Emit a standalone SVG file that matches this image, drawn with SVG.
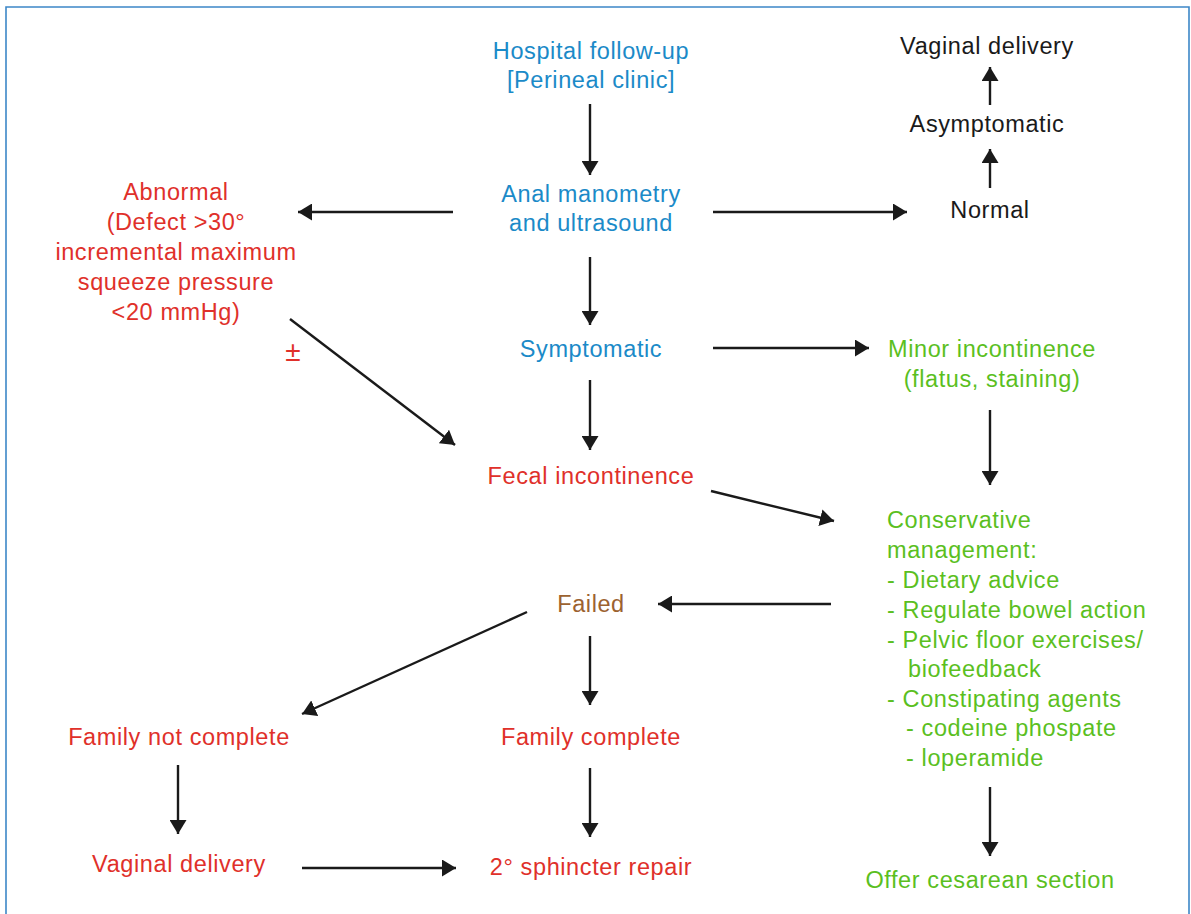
<svg xmlns="http://www.w3.org/2000/svg" width="1191" height="914" viewBox="0 0 1191 914">
  <style>
    text { font-family: "Liberation Sans", Arial, Helvetica, sans-serif; font-size: 23.5px; letter-spacing: 0.6px; }
    .c { text-anchor: middle; }
    .blue { fill: #1b8ac8; }
    .red { fill: #e0302a; }
    .green { fill: #5bbf1f; }
    .black { fill: #1a1a1a; }
    .brown { fill: #9c6230; }
    .pm { font-size: 28px; letter-spacing: 0; }
    .conn line { stroke: #1a1a1a; stroke-width: 2.4; fill: none; marker-end: url(#head); }
  </style>
  <defs>
    <marker id="head" markerUnits="userSpaceOnUse" markerWidth="15" markerHeight="17" refX="14" refY="8.5" orient="auto">
      <path d="M0,0 L14,8.5 L0,17 z" fill="#1a1a1a"/>
    </marker>
  </defs>

  <rect x="0" y="0" width="1191" height="914" fill="#ffffff"/>
  <!-- outer frame -->
  <path d="M6,914 L6,7 L1189,7 L1189,914" fill="none" stroke="#3d87c7" stroke-width="1.6"/>

  <g id="hospital-follow-up" class="blue">
    <text class="c" x="591" y="59">Hospital follow-up</text>
    <text class="c" x="591" y="88">[Perineal clinic]</text>
  </g>
  <g id="manometry" class="blue">
    <text class="c" x="591" y="202">Anal manometry</text>
    <text class="c" x="591" y="231">and ultrasound</text>
  </g>
  <g id="abnormal" class="red">
    <text class="c" x="176" y="200">Abnormal</text>
    <text class="c" x="176" y="230">(Defect &gt;30°</text>
    <text class="c" x="176" y="260">incremental maximum</text>
    <text class="c" x="176" y="290">squeeze pressure</text>
    <text class="c" x="176" y="320">&lt;20 mmHg)</text>
  </g>
  <g id="plus-minus" class="red">
    <text class="c pm" x="293" y="361">±</text>
  </g>
  <g id="normal" class="black">
    <text class="c" x="990" y="218">Normal</text>
  </g>
  <g id="asymptomatic" class="black">
    <text class="c" x="987" y="132">Asymptomatic</text>
  </g>
  <g id="vaginal-delivery-top" class="black">
    <text class="c" x="987" y="54">Vaginal delivery</text>
  </g>
  <g id="symptomatic" class="blue">
    <text class="c" x="591" y="357">Symptomatic</text>
  </g>
  <g id="minor-incontinence" class="green">
    <text class="c" x="992" y="357">Minor incontinence</text>
    <text class="c" x="992" y="387">(flatus, staining)</text>
  </g>
  <g id="fecal-incontinence" class="red">
    <text class="c" x="591" y="484">Fecal incontinence</text>
  </g>
  <g id="conservative" class="green">
    <text x="887" y="528">Conservative</text>
    <text x="887" y="558">management:</text>
    <text x="887" y="588">- Dietary advice</text>
    <text x="887" y="618">- Regulate bowel action</text>
    <text x="887" y="648">- Pelvic floor exercises/</text>
    <text x="908" y="677">biofeedback</text>
    <text x="887" y="707">- Constipating agents</text>
    <text x="906" y="736">- codeine phospate</text>
    <text x="906" y="766">- loperamide</text>
  </g>
  <g id="failed" class="brown">
    <text class="c" x="591" y="612">Failed</text>
  </g>
  <g id="family-not-complete" class="red">
    <text class="c" x="179" y="745">Family not complete</text>
  </g>
  <g id="family-complete" class="red">
    <text class="c" x="591" y="745">Family complete</text>
  </g>
  <g id="vaginal-delivery" class="red">
    <text class="c" x="179" y="872">Vaginal delivery</text>
  </g>
  <g id="sphincter-repair" class="red">
    <text class="c" x="591" y="875">2° sphincter repair</text>
  </g>
  <g id="cesarean" class="green">
    <text class="c" x="990" y="888">Offer cesarean section</text>
  </g>

  <g id="connectors" class="conn">
    <line x1="590" y1="104" x2="590" y2="175"/>
    <line x1="453" y1="212" x2="298" y2="212"/>
    <line x1="713" y1="212" x2="907" y2="212"/>
    <line x1="990" y1="188" x2="990" y2="149"/>
    <line x1="990" y1="105" x2="990" y2="67"/>
    <line x1="590" y1="257" x2="590" y2="325"/>
    <line x1="290" y1="319" x2="455" y2="445"/>
    <line x1="713" y1="348" x2="869" y2="348"/>
    <line x1="990" y1="410" x2="990" y2="485"/>
    <line x1="590" y1="380" x2="590" y2="450"/>
    <line x1="711" y1="491" x2="834" y2="521"/>
    <line x1="831" y1="604" x2="658" y2="604"/>
    <line x1="527" y1="612" x2="302" y2="714"/>
    <line x1="590" y1="636" x2="590" y2="705"/>
    <line x1="178" y1="765" x2="178" y2="834"/>
    <line x1="590" y1="768" x2="590" y2="837"/>
    <line x1="990" y1="787" x2="990" y2="856"/>
    <line x1="302" y1="868" x2="456" y2="868"/>
  </g>
</svg>
